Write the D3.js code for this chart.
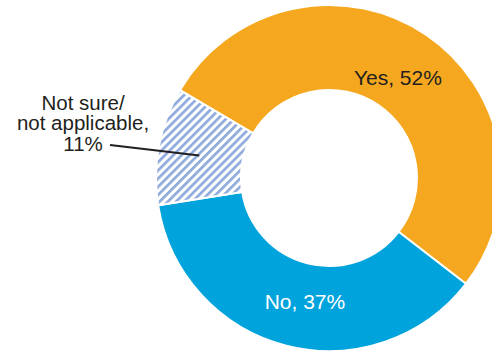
<!DOCTYPE html>
<html>
<head>
<meta charset="utf-8">
<script src="https://cdn.jsdelivr.net/npm/d3@7"></script>
<style>
  body { margin: 0; background: #fff; }
  svg { display: block; }
  text { font-family: "Liberation Sans", Arial, sans-serif; }
</style>
</head>
<body>
<div id="chart"></div>
<script>
// answers and shares (percent)
var categories = ["Yes", "No", "Not sure/not applicable"];
var values = [52, 37, 11];
var labelLines = [["Yes, 52%"], ["No, 37%"], ["Not sure/", "not applicable,", "11%"]];

var width = 492, height = 351;
var cx = 329, cy = 178;
var innerR = 88, outerR = 173;

var svg = d3.select("#chart").append("svg")
  .attr("width", width)
  .attr("height", height);

// hatch pattern for the "not sure" slice
var defs = svg.append("defs");
var pat = defs.append("pattern")
  .attr("id", "hatch")
  .attr("patternUnits", "userSpaceOnUse")
  .attr("width", 5.8)
  .attr("height", 10)
  .attr("patternTransform", "rotate(45)");
pat.append("rect").attr("width", 5.8).attr("height", 10).attr("fill", "#fff");
pat.append("rect").attr("width", 2.7).attr("height", 10).attr("fill", "#8eaadc");

var color = d3.scaleOrdinal()
  .domain(categories)
  .range(["#f5a81f", "#00a3dc", "url(#hatch)"]);

var pie = d3.pie()
  .sort(null)
  .value(function(d) { return d; })
  .startAngle(-59.5 * Math.PI / 180)
  .endAngle(300.5 * Math.PI / 180);

var arc = d3.arc().innerRadius(innerR).outerRadius(outerR);

var g = svg.append("g").attr("transform", "translate(" + cx + "," + cy + ")");

var arcs = pie(values);

g.selectAll("path.slice")
  .data(arcs)
  .enter().append("path")
  .attr("class", "slice")
  .attr("d", arc)
  .attr("fill", function(d, i) { return color(categories[i]); })
  .attr("stroke", "#fff")
  .attr("stroke-width", 2);

// labels inside the ring
var labelArc = d3.arc().innerRadius(130).outerRadius(130);
var inside = [
  { i: 0, dx: -4, dy: 15, fill: "#231f20" },
  { i: 1, dx: 8, dy: 5, fill: "#fff" }
];
inside.forEach(function(o) {
  var c = labelArc.centroid(arcs[o.i]);
  g.append("text")
    .attr("x", c[0] + o.dx)
    .attr("y", c[1] + o.dy)
    .attr("text-anchor", "middle")
    .attr("font-size", 21)
    .attr("fill", o.fill)
    .text(labelLines[o.i][0]);
});

// outside label with leader line for "not sure"
var notSure = arcs[2];
var tip = d3.arc().innerRadius(132).outerRadius(132).centroid(notSure);
var lx = 83 - cx, ly = 110 - cy;
var t = g.append("text")
  .attr("text-anchor", "middle")
  .attr("font-size", 20.5)
  .attr("fill", "#231f20");
labelLines[2].forEach(function(line, k) {
  t.append("tspan")
    .attr("x", lx)
    .attr("y", ly + k * 20.3)
    .text(line);
});

g.append("line")
  .attr("x1", 110 - cx)
  .attr("y1", 145 - cy)
  .attr("x2", tip[0])
  .attr("y2", tip[1] + 2)
  .attr("stroke", "#231f20")
  .attr("stroke-width", 2);
</script>
</body>
</html>
